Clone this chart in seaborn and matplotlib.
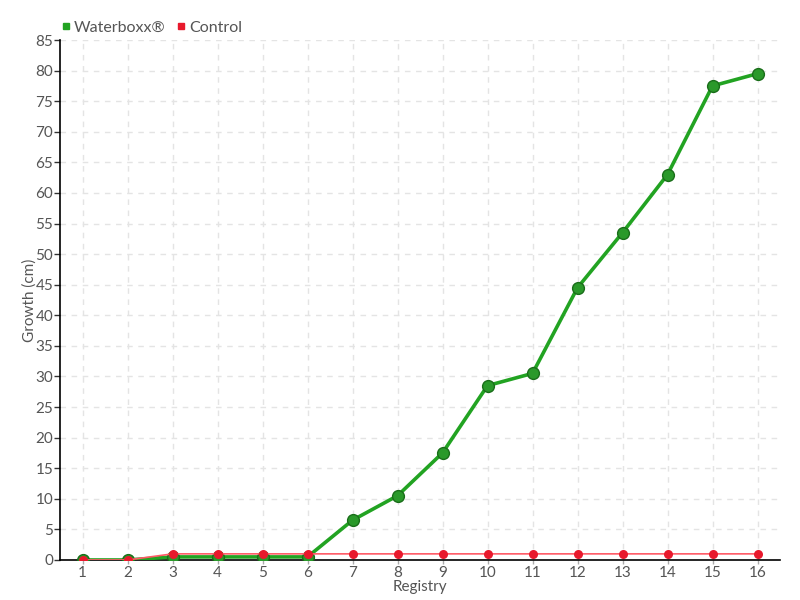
import matplotlib
matplotlib.use("Agg")
import matplotlib.pyplot as plt
import seaborn as sns
import pandas as pd
from matplotlib.lines import Line2D

registry = list(range(1, 17))
waterboxx = [0, 0, 0.5, 0.5, 0.5, 0.5, 6.5, 10.5, 17.5, 28.5, 30.5, 44.5, 53.5, 63, 77.5, 79.5]
control = [0, 0, 1, 1, 1, 1, 1, 1, 1, 1, 1, 1, 1, 1, 1, 1]
series_names = ["Waterboxx®", "Control"]
yticks = list(range(0, 90, 5))

sns.set_theme(style="white")
plt.rcParams['font.family'] = ['Lato', 'DejaVu Sans']

df = pd.DataFrame({"Registry": registry * 2,
                   "Growth": waterboxx + control,
                   "Series": [series_names[0]] * 16 + [series_names[1]] * 16})

fig = plt.figure(figsize=(8, 6), dpi=100)
ax = fig.add_axes([0.075, 0.0667, 0.9, 0.8666])

red = "#e8192c"

sns.lineplot(data=df[df.Series == series_names[0]], x="Registry", y="Growth", ax=ax,
             color="#22a322", linewidth=2.6, marker="o", markersize=8.5,
             markerfacecolor="#2a992a", markeredgecolor="#1a6e1a", markeredgewidth=1.0,
             zorder=3, legend=False)
sns.lineplot(data=df[df.Series == series_names[1]], x="Registry", y="Growth", ax=ax,
             color="#ff5a66", linewidth=1.2, marker="o", markersize=6.5,
             markerfacecolor=red, markeredgecolor=red, markeredgewidth=0,
             zorder=4, legend=False)

ax.set_xlim(0.5, 16.5)
ax.set_ylim(0, 85)
ax.set_xticks(registry)
ax.set_xticklabels([str(r) for r in registry])
ax.set_yticks(yticks)
ax.grid(True, color="#e4e4e4", linestyle=(0, (4, 4)), linewidth=1)
for s in ["top", "right"]:
    ax.spines[s].set_visible(False)
for s in ["left", "bottom"]:
    ax.spines[s].set_color("black")
    ax.spines[s].set_linewidth(1.2)
ax.tick_params(axis="y", which="both", left=True, length=4, width=1, color="#333333",
               labelsize=11, labelcolor="#555555", pad=1)
ax.tick_params(axis="x", which="both", bottom=True, length=3, width=1, color="#aaaaaa",
               labelsize=11, labelcolor="#555555", pad=1)
ax.set_xlabel("Registry", fontsize=11, color="#555555", labelpad=0.5)
ax.set_ylabel("Growth (cm)", fontsize=11, color="#555555", labelpad=-1)

handles = [Line2D([], [], marker="s", linestyle="none", color="#22a322", markersize=4.5),
           Line2D([], [], marker="s", linestyle="none", color=red, markersize=4.5)]
fig.legend(handles, series_names, loc="upper left", bbox_to_anchor=(0.054, 0.99),
           ncol=2, frameon=False, fontsize=11.5, handletextpad=0.0, columnspacing=0.5,
           labelcolor="#555555", handlelength=1.0)

fig.savefig("out.png", dpi=100)
